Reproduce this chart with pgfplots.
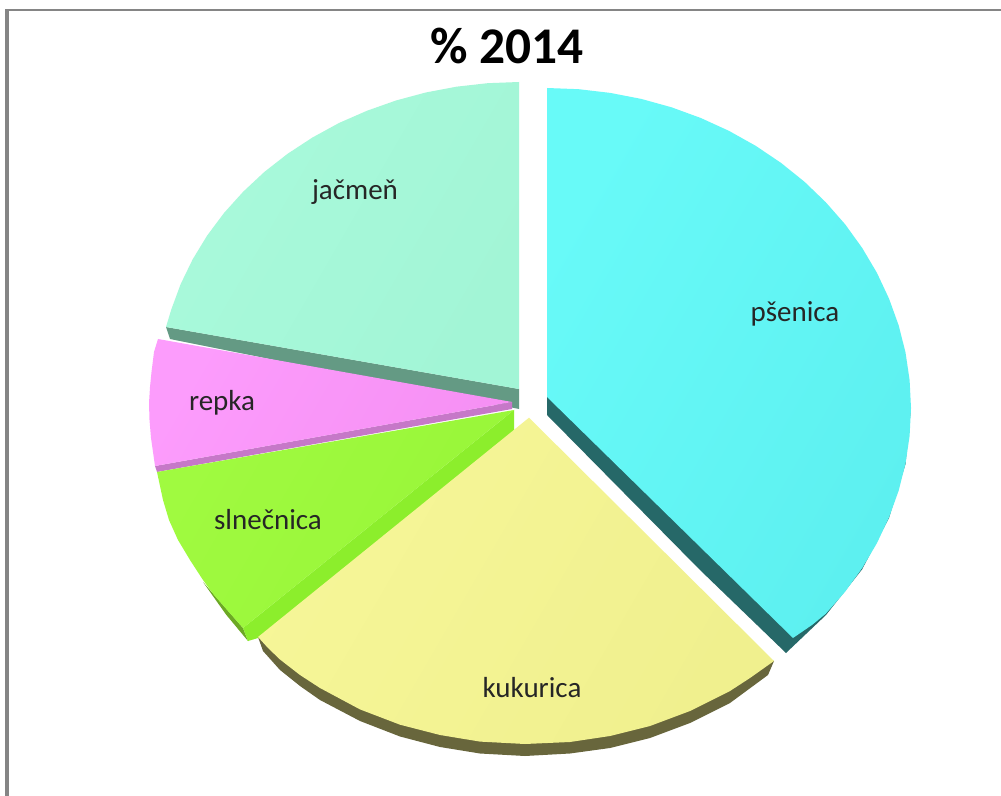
\documentclass[border=0pt]{standalone}
\usepackage{pgfplots}
\pgfplotsset{compat=1.18}
\usepackage{fontspec}
\setmainfont{Carlito}
\definecolor{cyanA}{HTML}{68FAF8}
\definecolor{cyanB}{HTML}{5DF0F0}
\definecolor{cyanS}{HTML}{266868}
\definecolor{barA}{HTML}{A9FADB}
\definecolor{barB}{HTML}{A2F5D6}
\definecolor{barS}{HTML}{649A84}
\definecolor{pinkA}{HTML}{FC9CFC}
\definecolor{pinkB}{HTML}{F690F4}
\definecolor{pinkS}{HTML}{C678C8}
\definecolor{grnA}{HTML}{A0FA40}
\definecolor{grnB}{HTML}{98F638}
\definecolor{grnS}{HTML}{8CEE2C}
\definecolor{grnD}{HTML}{6CA825}
\definecolor{yelA}{HTML}{F6F698}
\definecolor{yelB}{HTML}{F0F08E}
\definecolor{yelS}{HTML}{68663C}
\begin{document}
\begin{tikzpicture}
\begin{axis}[
  scale only axis, width=500.5pt, height=398pt,
  xmin=0, xmax=1001, ymin=0, ymax=796, y dir=reverse,
  axis lines=none, clip=true,
]
% page extent
\addplot[fill=white, draw=none, forget plot] coordinates {(0,0) (1001,0) (1001,796) (0,796)} -- cycle;
% frame
\addplot[draw=black!48, line width=1.7pt, forget plot] coordinates {(7,796) (7,10)};
\addplot[draw=black!48, line width=1.2pt, forget plot] coordinates {(5,10.3) (1001,10.3)};
% jacmen side and top
\addplot[fill=barS, draw=none] coordinates {(166,327) (170,339) (519,409) (519,389)} -- cycle;
\addplot[left color=barA, right color=barB, shading angle=60, draw=none] coordinates {(519,389) (519,82) (487.6,83.2) (456.5,86.7) (425.8,92.5) (396,100.5) (366.9,110.8) (339,123) (312.5,137.5) (287.6,153.8) (264.4,171.9) (243.2,191.7) (224.1,212.9) (207.2,235.5) (192.7,259.3) (180.7,284) (171.3,309.5) (166,327)} -- cycle;
% repka side and top
\addplot[fill=pinkS, draw=none] coordinates {(155,466) (157,472) (512,409) (512,402)} -- cycle;
\addplot[left color=pinkA, right color=pinkB, shading angle=60, draw=none] coordinates {(512,402) (158,339) (154,352) (151.5,372) (150,387) (149,403) (149.5,420) (151,438) (155,466)} -- cycle;
% slnecnica side and top
\addplot[fill=grnD, draw=none] coordinates {(203,582) (243,628) (248,641) (226,614.5)} -- cycle;
\addplot[fill=grnS, draw=none] coordinates {(514,410) (243,628) (248,641) (258,638) (514,431)} -- cycle;
\addplot[left color=grnA, right color=grnB, shading angle=60, draw=none] coordinates {(514,410) (157,472) (160,486) (163,500) (169,520) (178,540) (190,560) (203,580) (214,595) (228,611) (243,628)} -- cycle;
% kukurica side and top
\addplot[fill=yelS, draw=none] coordinates {(258,637) (263,651) (280,670) (300,686) (320,700) (360,721) (400,736.5) (440,747) (480,753.5) (525,756) (570,753.5) (610,748) (650,738) (690,723) (730,703) (768,675) (774,661)} -- cycle;
\addplot[left color=yelA, right color=yelB, shading angle=60, draw=none] coordinates {(529,417.7) (258,637) (268,648) (280,659.5) (300,675) (320,688) (360,709.4) (400,724.7) (440,735) (480,741.6) (525,744) (570,742) (610,736) (650,726) (690,711) (730,691) (750,678) (774,661)} -- cycle;
% psenica side and top
\addplot[fill=cyanS, draw=none] coordinates {(547,397) (547,415) (700,570) (786,653) (826,615) (862,569.5) (889,518) (905.5,464) (911,408)} -- cycle;
\addplot[left color=cyanA, right color=cyanB, shading angle=60, draw=none] coordinates {(547,397) (547,88) (578.7,89.2) (610.2,92.9) (641.2,98.9) (671.5,107.3) (700.8,118) (729,130.9) (755.8,145.9) (781,162.9) (804.4,181.7) (825.8,202.3) (845.2,224.4) (862.2,248) (876.9,272.8) (889,298.6) (898.6,325.2) (905.5,352.4) (909.6,380.1) (911,408) (909.6,435.9) (905.5,463.6) (898.6,490.8) (889,517.4) (876.9,543.2) (862.2,568) (845.2,591.6) (825.8,613.7) (812,625) (793,638)} -- cycle;
% texts
\node[font=\fontsize{25.7}{30}\selectfont\bfseries, text=black] at (axis cs:507,46) {\% 2014};
\node[font=\fontsize{14.5}{17}\selectfont, text=black!85] at (axis cs:795,314) {pšenica};
\node[font=\fontsize{14.5}{17}\selectfont, text=black!85] at (axis cs:532,688) {kukurica};
\node[font=\fontsize{14.5}{17}\selectfont, text=black!85] at (axis cs:268,520) {slnečnica};
\node[font=\fontsize{14.5}{17}\selectfont, text=black!85] at (axis cs:222,403) {repka};
\node[font=\fontsize{14.5}{17}\selectfont, text=black!85] at (axis cs:355,192) {jačmeň};
\end{axis}
\end{tikzpicture}
\end{document}
